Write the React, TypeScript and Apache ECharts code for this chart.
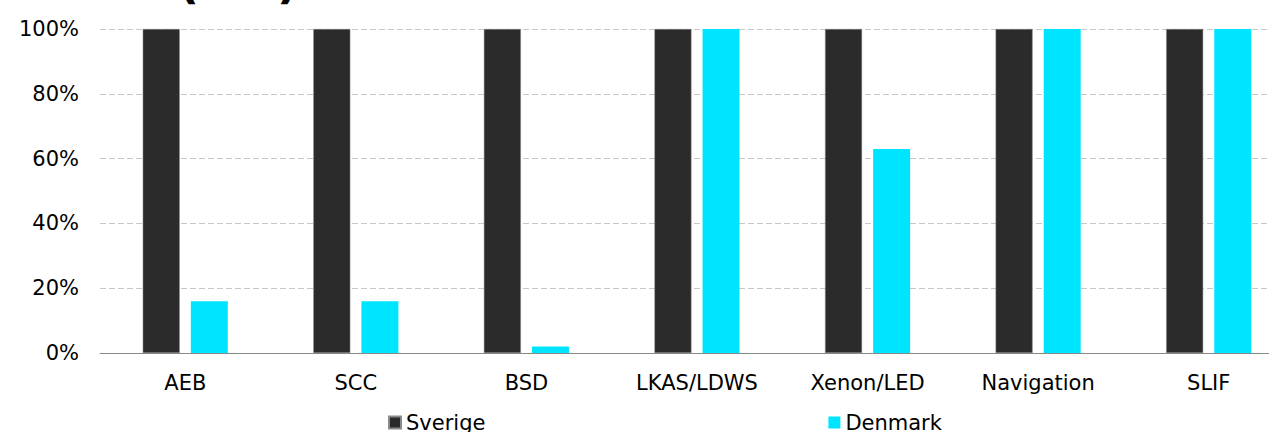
import React, { useEffect, useRef } from "react";
import * as echarts from "echarts";

const categories = ["AEB", "SCC", "BSD", "LKAS/LDWS", "Xenon/LED", "Navigation", "SLIF"];
const sverige = [100, 100, 100, 100, 100, 100, 100];
const denmark = [16, 16, 2, 100, 63, 100, 100];
const yTicks = [0, 20, 40, 60, 80, 100];

const FONT = "DejaVu Sans";

export default function App() {
  const ref = useRef<HTMLDivElement>(null);
  useEffect(() => {
    if (!ref.current) return;
    const chart = echarts.init(ref.current, undefined, { renderer: "svg" });
    chart.setOption({
      animation: false,
      textStyle: { fontFamily: FONT },
      grid: { left: 100, right: 0, top: 29, bottom: 79, containLabel: false },
      graphic: [
        {
          type: "text",
          left: 178,
          top: -41,
          style: { text: "(", fontSize: 46, fontWeight: "bold", fontFamily: FONT, fill: "#000" },
        },
        {
          type: "text",
          left: 277,
          top: -41,
          style: { text: ")", fontSize: 46, fontWeight: "bold", fontFamily: FONT, fill: "#000" },
        },
      ],
      legend: {
        left: 388,
        top: 412,
        padding: 0,
        itemWidth: 12,
        itemHeight: 12,
        itemGap: 343,
        icon: "rect",
        textStyle: { fontSize: 21, fontFamily: FONT, color: "#000" },
        data: ["Sverige", "Denmark"],
      },
      xAxis: {
        type: "category",
        data: categories,
        axisLine: { lineStyle: { color: "#898989", width: 1 } },
        axisTick: { show: false },
        axisLabel: { fontSize: 21, fontFamily: FONT, color: "#000", margin: 19 },
      },
      yAxis: {
        type: "value",
        min: yTicks[0],
        max: yTicks[yTicks.length - 1],
        interval: 20,
        axisLine: { show: false },
        axisTick: { show: false },
        axisLabel: { fontSize: 21, fontFamily: FONT, color: "#000", margin: 21, formatter: "{value}%" },
        splitLine: { lineStyle: { color: "#c8c8c8", type: [6, 3], width: 1 } },
      },
      series: [
        {
          name: "Sverige",
          type: "bar",
          data: sverige,
          barWidth: 37,
          barGap: "30%",
          itemStyle: { color: "#2b2b2b", borderColor: "#8a8a8a", borderWidth: 0.5 },
        },
        {
          name: "Denmark",
          type: "bar",
          data: denmark,
          barWidth: 37,
          barGap: "30%",
          itemStyle: { color: "#00e5ff" },
        },
      ],
    });
    return () => chart.dispose();
  }, []);
  return (
    <div style={{ width: 1269, height: 432, position: "absolute", left: 0, top: 0, overflow: "hidden" }}>
      <div ref={ref} style={{ width: 1294, height: 432, position: "absolute", left: 0, top: 0 }} />
    </div>
  );
}
